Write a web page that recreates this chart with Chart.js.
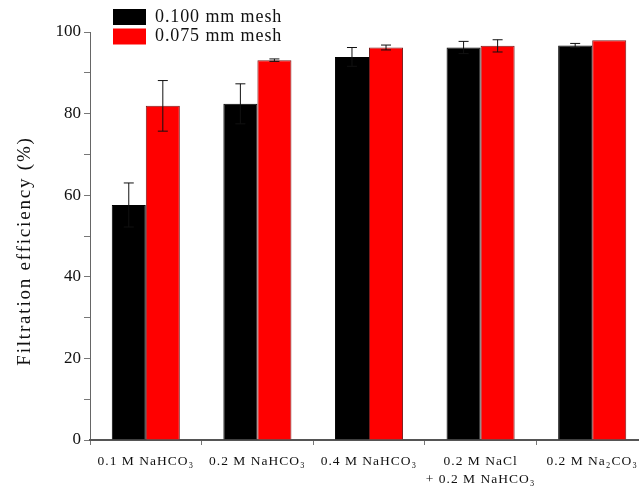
<!DOCTYPE html>
<html>
<head>
<meta charset="utf-8">
<script src="https://cdn.jsdelivr.net/npm/chart.js@4.4.1/dist/chart.umd.min.js"></script>
<style>
    html, body { margin: 0; padding: 0; background: #fff; overflow: hidden; }
    #wrap { width: 652px; height: 489px; position: relative; }
</style>
</head>
<body>
<div id="wrap"><canvas id="filterChart"></canvas></div>
<script>
// Data
const categories = [
    '0.1 M NaHCO₃',
    '0.2 M NaHCO₃',
    '0.4 M NaHCO₃',
    ['0.2 M NaCl', '+ 0.2 M NaHCO₃'],
    '0.2 M Na₂CO₃'
];
const seriesNames = ['0.100 mm mesh', '0.075 mm mesh'];
const mesh100 = [57.6, 82.4, 93.9, 96.2, 96.7];
const mesh100Err = [5.4, 4.9, 2.3, 1.5, 0.5];
const mesh075 = [81.9, 93.1, 96.2, 96.6, 98.0];
const mesh075Err = [6.2, 0.3, 0.6, 1.5, 0];
const yTicks = [0, 20, 40, 60, 80, 100];

const serif = "'Liberation Serif', 'Times New Roman', serif";

// Error bars drawn through the chart's own scales
const errorBars = {
    id: 'errorBars',
    afterDatasetsDraw(chart) {
        const ctx = chart.ctx;
        const y = chart.scales.y;
        const errs = [mesh100Err, mesh075Err];
        ctx.save();
        ctx.strokeStyle = '#111';
        ctx.lineWidth = 1;
        chart.data.datasets.forEach((ds, di) => {
            chart.getDatasetMeta(di).data.forEach((bar, i) => {
                const e = errs[di][i];
                if (!e) return;
                const v = ds.data[i];
                const top = y.getPixelForValue(v + e);
                const bot = y.getPixelForValue(v - e);
                ctx.beginPath();
                ctx.moveTo(bar.x, top);
                ctx.lineTo(bar.x, bot);
                ctx.moveTo(bar.x - 5, top);
                ctx.lineTo(bar.x + 5, top);
                ctx.moveTo(bar.x - 5, bot);
                ctx.lineTo(bar.x + 5, bot);
                ctx.stroke();
            });
        });
        ctx.restore();
    }
};

// wider letter spacing for the category labels only
const spacedLabels = {
    id: 'spacedLabels',
    afterUpdate(chart) {
        const sc = chart.scales.x;
        if (sc._spaced) return;
        const orig = sc.drawLabels;
        sc.drawLabels = function(area) {
            this.ctx.save();
            this.ctx.letterSpacing = '1px';
            orig.call(this, area);
            this.ctx.restore();
        };
        sc._spaced = true;
    }
};

// Stacked legend and spaced y-axis title
const decorations = {
    id: 'decorations',
    afterDraw(chart) {
        const ctx = chart.ctx;
        ctx.save();
        chart.data.datasets.forEach((ds, i) => {
            const top = 9 + i * 19.5;
            ctx.fillStyle = ds.backgroundColor;
            ctx.fillRect(113, top, 33, 16);
            ctx.fillStyle = '#111';
            ctx.font = '18px ' + serif;
            ctx.letterSpacing = '0.9px';
            ctx.textBaseline = 'middle';
            ctx.textAlign = 'left';
            ctx.fillText(ds.label, 155, top + 8);
        });
        ctx.translate(25, 251);
        ctx.rotate(-Math.PI / 2);
        ctx.font = '19px ' + serif;
        ctx.letterSpacing = '1.8px';
        ctx.textAlign = 'center';
        ctx.textBaseline = 'middle';
        ctx.fillText('Filtration efficiency (%)', 0, 0);
        ctx.restore();
    }
};

new Chart(document.getElementById('filterChart'), {
    type: 'bar',
    data: {
        labels: categories,
        datasets: [{
            label: seriesNames[0],
            data: mesh100,
            backgroundColor: '#000000',
            borderColor: '#000000',
            borderWidth: 1
        }, {
            label: seriesNames[1],
            data: mesh075,
            backgroundColor: '#ff0000',
            borderColor: '#7a1a1a',
            borderWidth: 1
        }]
    },
    options: {
        responsive: true,
        maintainAspectRatio: false,
        animation: false,
        categoryPercentage: 0.61,
        barPercentage: 1,
        layout: {
            padding: { top: 32, right: 4, left: 0, bottom: 0 }
        },
        plugins: {
            legend: { display: false },
            title: { display: false },
            tooltip: { enabled: false }
        },
        scales: {
            y: {
                min: 0,
                max: 100,
                afterFit: scale => { scale.width = 90; },
                ticks: {
                    stepSize: 10,
                    color: '#111',
                    padding: 3,
                    font: { family: serif, size: 17 },
                    callback: v => yTicks.includes(v) ? v : ''
                },
                grid: {
                    drawOnChartArea: false,
                    tickLength: 6,
                    color: '#777'
                },
                border: { color: '#666', width: 1 }
            },
            x: {
                afterFit: scale => { scale.height = 49; },
                ticks: {
                    color: '#111',
                    padding: 8,
                    maxRotation: 0,
                    autoSkip: false,
                    font: { family: serif, size: 13.5, lineHeight: 1.3 }
                },
                grid: {
                    drawOnChartArea: false,
                    tickLength: 5,
                    color: '#777'
                },
                border: { color: '#555', width: 2 }
            }
        }
    },
    plugins: [errorBars, spacedLabels, decorations]
});
</script>
</body>
</html>
